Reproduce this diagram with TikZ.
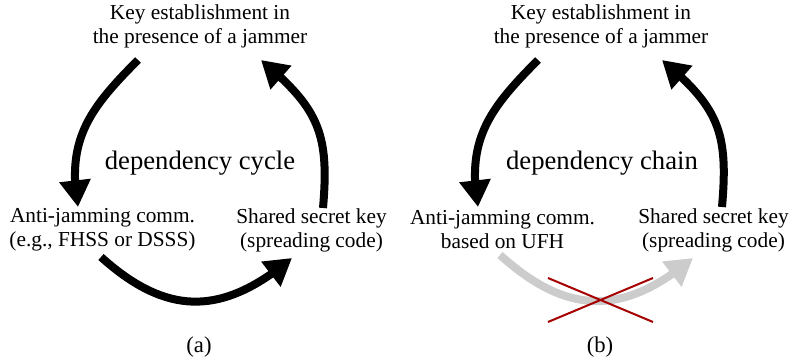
\documentclass[tikz,border=0pt]{standalone}
\usepackage{fontspec}
\setmainfont{Liberation Serif}
\usetikzlibrary{arrows.meta,bending}
\begin{document}
\begin{tikzpicture}[x=0.75pt,y=-0.75pt,
  lbl/.style={font=\fontsize{16}{18}\selectfont, align=center, inner sep=0pt},
  big/.style={font=\fontsize{20}{22}\selectfont, inner sep=0pt},
  subcap/.style={font=\fontsize{17}{18}\selectfont, inner sep=0pt},
  dep/.style={line width=6pt, -{Triangle[length=20pt,width=22.5pt,flex]}},
  dead/.style={dep, draw=black!20},
  cross/.style={draw=red!65!black, line width=1.5pt}]
\useasboundingbox (0,0) rectangle (794,363);

% ---------- (a) dependency cycle ----------
\node[lbl] (keyA)  at (200,26)  {Key establishment in\\the presence of a jammer};
\node[big] (cycA)  at (200,163) {dependency cycle};
\node[lbl] (ajA)   at (102.5,230) {Anti-jamming comm.\\(e.g., FHSS or DSSS)};
\node[lbl] (sskA)  at (311.5,230) {Shared secret key\\(spreading code)};
\node[subcap] (capA) at (199,347) {(a)};

\coordinate (a1s) at (138,60);  \coordinate (a1e) at (78,207);
\coordinate (a2s) at (101,257); \coordinate (a2e) at (292,258);
\coordinate (a3s) at (323,208); \coordinate (a3e) at (261,60);
\draw[dep] (a1s) to[out=225,in=100,looseness=1.1] (a1e);
\draw[dep] (a2s) to[out=-42,in=220,looseness=1.2] (a2e);
\draw[dep] (a3s) to[out=85,in=-40,looseness=1.2] (a3e);

% ---------- (b) dependency chain ----------
\node[lbl] (keyB)  at (601,26)  {Key establishment in\\the presence of a jammer};
\node[big] (chB)   at (602,163) {dependency chain};
\node[lbl] (ajB)   at (502.5,230) {Anti-jamming comm.\\based on UFH};
\node[lbl] (sskB)  at (713.5,230) {Shared secret key\\(spreading code)};
\node[subcap] (capB) at (600,347) {(b)};

\coordinate (b1s) at (538,60);  \coordinate (b1e) at (478,207);
\coordinate (b2s) at (500,255); \coordinate (b2e) at (693,258);
\coordinate (b3s) at (722,207); \coordinate (b3e) at (662,60);
\draw[dep]  (b1s) to[out=225,in=100,looseness=1.1] (b1e);
\draw[dead] (b2s) to[out=-42,in=220,looseness=1.2] (b2e);
\draw[dep]  (b3s) to[out=85,in=-40,looseness=1.2] (b3e);

% the broken link is struck through
\coordinate (x1) at (548,278); \coordinate (x2) at (653,322);
\coordinate (x3) at (548,322); \coordinate (x4) at (653,278);
\draw[cross] (x1) -- (x2);
\draw[cross] (x3) -- (x4);
\end{tikzpicture}
\end{document}
